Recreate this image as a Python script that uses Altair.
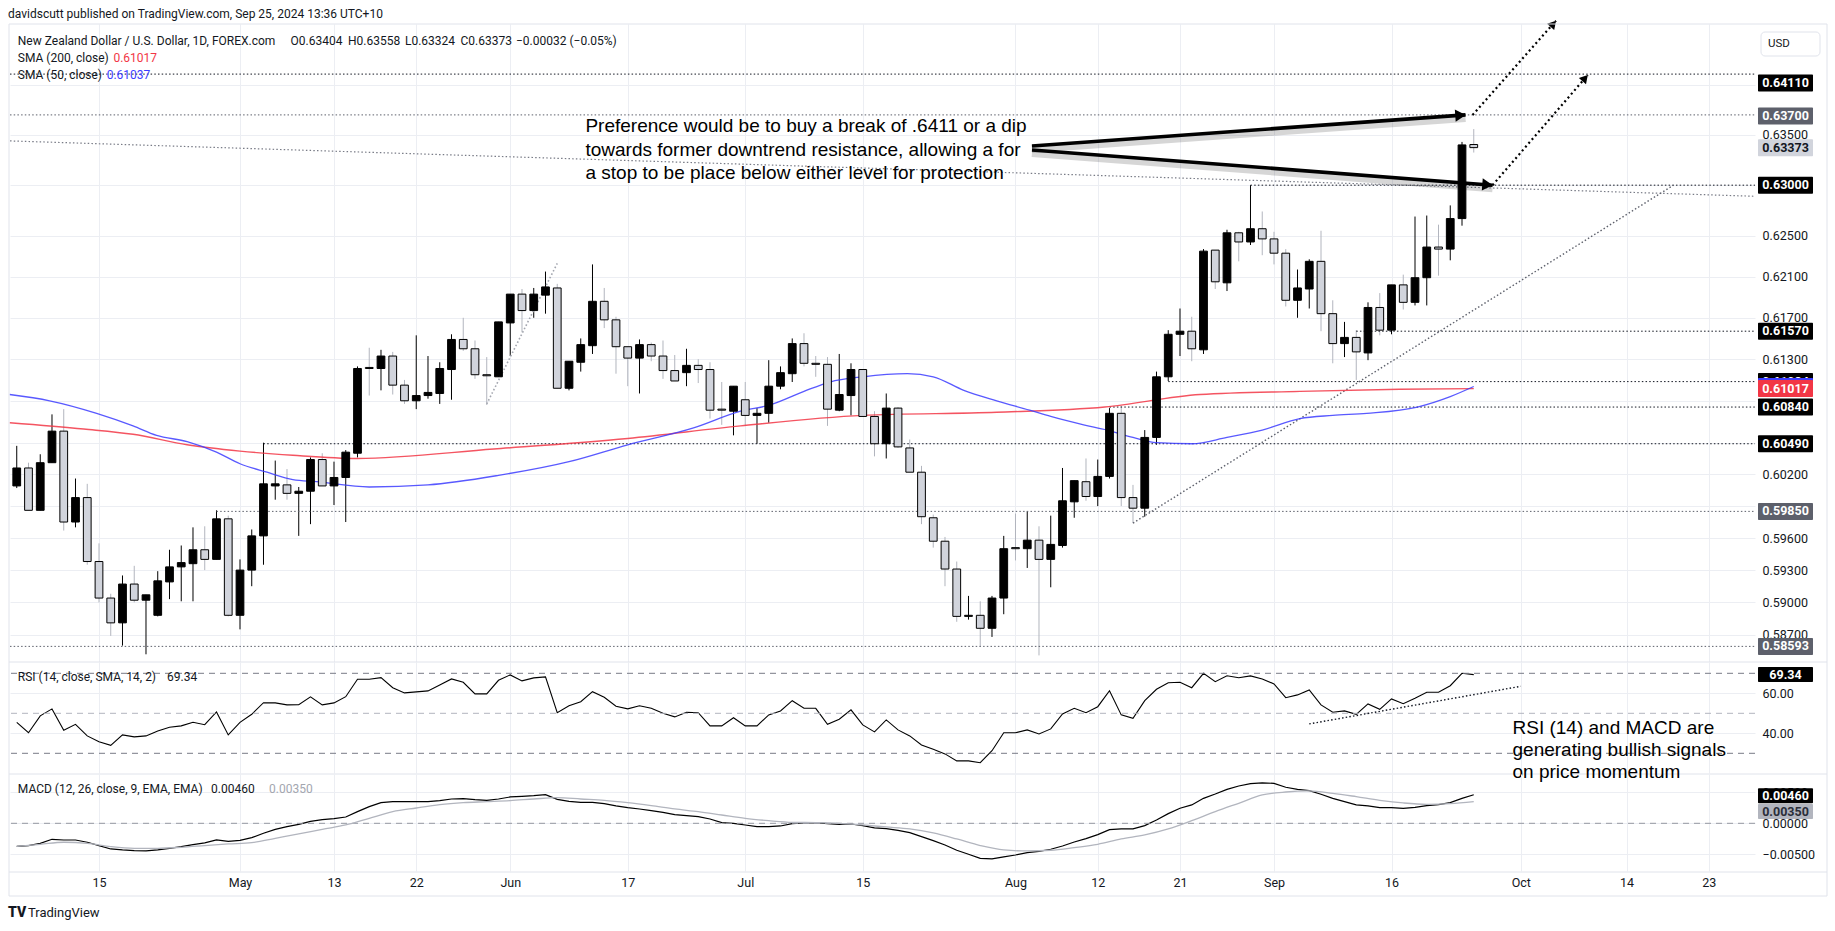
import math
import altair as alt
import pandas as pd

# ------------------------------------------------------------------ data
FIRST_DAY, LAST_DAY = "2024-04-04", "2024-09-25"
ANCHOR_DAY = "2024-04-15"          # trading-day 0 of the time axis
AXIS_END_DAY = "2024-10-31"

opens = [
    0.6009, 0.6026, 0.5986, 0.6031, 0.6061, 0.5975, 0.5998,
    0.5938, 0.5904, 0.5881, 0.5917, 0.5902, 0.5888, 0.5919, 0.5933, 0.5936, 0.5949,
    0.5940, 0.5978, 0.5888, 0.5930, 0.5962, 0.6009, 0.6010, 0.6002, 0.6004, 0.6034,
    0.6009, 0.6017, 0.6040, 0.6122, 0.6121, 0.6133, 0.6105, 0.6090, 0.6095, 0.6097,
    0.6120, 0.6149, 0.6140, 0.6115, 0.6113, 0.6165, 0.6193, 0.6177, 0.6192, 0.6199,
    0.6102, 0.6127, 0.6143, 0.6186, 0.6168, 0.6142, 0.6131, 0.6144, 0.6133, 0.6119,
    0.6117, 0.6124, 0.6120, 0.6082, 0.6080, 0.6091, 0.6076, 0.6078, 0.6104, 0.6116,
    0.6145, 0.6126, 0.6125, 0.6081, 0.6095, 0.6120, 0.6075, 0.6049, 0.6083, 0.6045,
    0.6022, 0.5979, 0.5957, 0.5931, 0.5887, 0.5888, 0.5876, 0.5904, 0.5951, 0.5950,
    0.5958, 0.5940, 0.5953, 0.5994, 0.6013, 0.5999, 0.6018, 0.6078, 0.5998, 0.5988,
    0.6055, 0.6113, 0.6154, 0.6157, 0.6139, 0.6236, 0.6204, 0.6253, 0.6244, 0.6257,
    0.6247, 0.6233, 0.6187, 0.6198, 0.6225, 0.6174, 0.6145, 0.6151, 0.6136, 0.6180,
    0.6158, 0.6202, 0.6185, 0.6209, 0.6239, 0.6237, 0.6267, 0.63404]
highs = [
    0.6047, 0.6031, 0.6039, 0.6077, 0.6082, 0.6016, 0.6011,
    0.5955, 0.5908, 0.5925, 0.5934, 0.5907, 0.5929, 0.5949, 0.5953, 0.5970, 0.5971,
    0.5986, 0.5981, 0.5940, 0.5968, 0.6050, 0.6033, 0.6025, 0.6008, 0.6036, 0.6040,
    0.6032, 0.6043, 0.6123, 0.6141, 0.6139, 0.6137, 0.6110, 0.6153, 0.6133, 0.6127,
    0.6154, 0.6170, 0.6148, 0.6132, 0.6166, 0.6193, 0.6198, 0.6199, 0.6215, 0.6203,
    0.6128, 0.6150, 0.6222, 0.6199, 0.6171, 0.6142, 0.6149, 0.6146, 0.6148, 0.6134,
    0.6140, 0.6130, 0.6127, 0.6108, 0.6104, 0.6108, 0.6083, 0.6129, 0.6123, 0.6150,
    0.6155, 0.6133, 0.6132, 0.6135, 0.6126, 0.6120, 0.6080, 0.6097, 0.6084, 0.6053,
    0.6028, 0.5982, 0.5961, 0.5938, 0.5906, 0.5901, 0.5906, 0.5962, 0.5983, 0.5985,
    0.5971, 0.5981, 0.6026, 0.6014, 0.6035, 0.6034, 0.6083, 0.6085, 0.6010, 0.6062,
    0.6118, 0.6158, 0.6179, 0.6171, 0.6237, 0.6236, 0.6256, 0.6254, 0.6300, 0.6274,
    0.6254, 0.6237, 0.6217, 0.6227, 0.6255, 0.6187, 0.6166, 0.6158, 0.6185, 0.6194,
    0.6202, 0.6212, 0.6269, 0.6270, 0.6261, 0.6280, 0.6343, 0.63558]
lows = [
    0.6007, 0.5986, 0.5986, 0.6031, 0.5967, 0.5970, 0.5935,
    0.5900, 0.5869, 0.5860, 0.5900, 0.5852, 0.5887, 0.5903, 0.5901, 0.5901, 0.5930,
    0.5940, 0.5887, 0.5875, 0.5915, 0.5935, 0.5996, 0.5996, 0.5962, 0.5973, 0.6009,
    0.5991, 0.5975, 0.6036, 0.6095, 0.6100, 0.6096, 0.6087, 0.6082, 0.6092, 0.6087,
    0.6091, 0.6138, 0.6111, 0.6086, 0.6113, 0.6133, 0.6156, 0.6170, 0.6174, 0.6102,
    0.6100, 0.6118, 0.6135, 0.6160, 0.6116, 0.6104, 0.6097, 0.6128, 0.6111, 0.6109,
    0.6104, 0.6107, 0.6073, 0.6067, 0.6057, 0.6066, 0.6049, 0.6069, 0.6101, 0.6108,
    0.6123, 0.6113, 0.6066, 0.6080, 0.6076, 0.6075, 0.6037, 0.6035, 0.6045, 0.6022,
    0.5973, 0.5951, 0.5915, 0.5882, 0.5884, 0.5859, 0.5868, 0.5889, 0.5939, 0.5932,
    0.5851, 0.5914, 0.5951, 0.5979, 0.5995, 0.5990, 0.6016, 0.5990, 0.5974, 0.5980,
    0.6048, 0.6109, 0.6133, 0.6128, 0.6135, 0.6198, 0.6196, 0.6225, 0.6241, 0.6231,
    0.6222, 0.6181, 0.6170, 0.6179, 0.6157, 0.6126, 0.6132, 0.6110, 0.6129, 0.6153,
    0.6154, 0.6178, 0.6182, 0.6182, 0.6211, 0.6226, 0.6260, 0.63324]
closes = [
    0.6026, 0.5986, 0.6031, 0.6061, 0.5975, 0.5998, 0.5938,
    0.5904, 0.5881, 0.5917, 0.5902, 0.5907, 0.5920, 0.5933, 0.5937, 0.5949, 0.5940,
    0.5978, 0.5888, 0.5930, 0.5962, 0.6011, 0.6011, 0.6002, 0.6004, 0.6034, 0.6009,
    0.6017, 0.6041, 0.6121, 0.6121, 0.6133, 0.6105, 0.6090, 0.6095, 0.6098, 0.6121,
    0.6149, 0.6140, 0.6115, 0.6114, 0.6166, 0.6193, 0.6177, 0.6193, 0.6200, 0.6102,
    0.6128, 0.6144, 0.6186, 0.6168, 0.6142, 0.6131, 0.6144, 0.6133, 0.6119, 0.6109,
    0.6124, 0.6120, 0.6081, 0.6081, 0.6104, 0.6076, 0.6078, 0.6104, 0.6117, 0.6145,
    0.6126, 0.6125, 0.6082, 0.6096, 0.6120, 0.6075, 0.6049, 0.6083, 0.6046, 0.6022,
    0.5980, 0.5957, 0.5931, 0.5887, 0.5888, 0.5876, 0.5904, 0.5950, 0.5950, 0.5958,
    0.5940, 0.5954, 0.5995, 0.6014, 0.5999, 0.6018, 0.6078, 0.5998, 0.5988, 0.6055,
    0.6113, 0.6154, 0.6157, 0.6140, 0.6235, 0.6205, 0.6253, 0.6244, 0.6257, 0.6247,
    0.6233, 0.6187, 0.6199, 0.6225, 0.6174, 0.6145, 0.6151, 0.6137, 0.6180, 0.6158,
    0.6202, 0.6185, 0.6209, 0.6239, 0.6237, 0.6267, 0.6340, 0.63373]

rsi = [
    45.5, 40.3, 48.7, 52.2, 41.5, 44.5, 38.7,
    35.8, 34.0, 39.2, 38.2, 38.7, 41.2, 43.0, 43.7, 45.5, 44.3,
    50.7, 39.2, 45.5, 49.5, 55.3, 55.2, 54.2, 54.3, 58.2, 54.2,
    55.2, 58.3, 67.0, 67.0, 67.8, 62.8, 60.2, 60.7, 61.2, 64.2,
    67.2, 65.5, 59.7, 59.7, 66.5, 69.2, 66.2, 67.7, 68.2, 50.3,
    53.8, 55.8, 60.8, 58.0, 53.5, 52.2, 53.8, 52.5, 50.0, 48.2,
    50.5, 50.3, 43.7, 43.7, 47.8, 43.7, 43.7, 49.2, 51.2, 56.3,
    52.5, 52.5, 44.5, 47.0, 51.7, 44.2, 40.7, 46.7, 41.7, 38.7,
    34.2, 32.0, 29.7, 26.2, 26.2, 25.3, 31.3, 40.3, 40.3, 41.7,
    39.7, 42.2, 49.7, 52.5, 50.3, 53.3, 61.3, 49.2, 47.5, 56.3,
    62.0, 65.3, 65.5, 62.8, 70.0, 65.8, 68.8, 67.8, 68.7, 67.2,
    64.7, 57.8, 59.2, 61.7, 54.2, 50.5, 51.2, 49.5, 54.7, 52.0,
    57.2, 54.8, 57.5, 60.5, 60.5, 63.8, 70.0, 69.34]

macd = [
    -0.00371, -0.00360, -0.00323, -0.00258, -0.00269, -0.00269, -0.00306,
    -0.00360, -0.00414, -0.00430, -0.00441, -0.00446, -0.00430, -0.00403, -0.00376, -0.00344, -0.00317,
    -0.00269, -0.00290, -0.00274, -0.00231, -0.00161, -0.00097, -0.00054, -0.00016, 0.00032, 0.00059,
    0.00075, 0.00102, 0.00188, 0.00269, 0.00333, 0.00349, 0.00349, 0.00349, 0.00349, 0.00366,
    0.00392, 0.00398, 0.00382, 0.00371, 0.00392, 0.00425, 0.00435, 0.00446, 0.00462, 0.00387,
    0.00355, 0.00339, 0.00339, 0.00317, 0.00280, 0.00253, 0.00231, 0.00204, 0.00177, 0.00140,
    0.00124, 0.00108, 0.00070, 0.00011, 0.00000, -0.00027, -0.00054, -0.00054, -0.00043, -0.00005,
    0.00005, 0.00011, -0.00005, -0.00016, -0.00011, -0.00038, -0.00075, -0.00086, -0.00113, -0.00151,
    -0.00215, -0.00280, -0.00349, -0.00435, -0.00500, -0.00565, -0.00575, -0.00543, -0.00511, -0.00473,
    -0.00452, -0.00419, -0.00366, -0.00301, -0.00247, -0.00183, -0.00102, -0.00091, -0.00091, -0.00038,
    0.00054, 0.00156, 0.00242, 0.00296, 0.00403, 0.00473, 0.00548, 0.00602, 0.00640, 0.00651,
    0.00645, 0.00581, 0.00548, 0.00527, 0.00468, 0.00403, 0.00349, 0.00296, 0.00280, 0.00253,
    0.00253, 0.00242, 0.00258, 0.00285, 0.00301, 0.00333, 0.00403, 0.00460]

signal_day = [-7, -5, -3, -1, 1, 3, 5, 7, 9, 11, 13, 15, 17, 19, 21, 23, 25, 27, 29, 31,
              33, 35, 37, 39, 41, 43, 45, 47, 49, 51, 53, 55, 57, 59, 61, 63, 65, 67, 69,
              71, 73, 75, 77, 79, 81, 83, 85, 87, 89, 91, 93, 95, 97, 99, 101, 103, 105,
              107, 109, 111, 113, 115, 117]
signal_val = [-0.00371, -0.00339, -0.00306, -0.00323, -0.00376, -0.00403, -0.00403, -0.00387,
              -0.00360, -0.00333, -0.00312, -0.00242, -0.00172, -0.00097, -0.00027, 0.00081,
              0.00188, 0.00247, 0.00301, 0.00333, 0.00349, 0.00366, 0.00392, 0.00414, 0.00392,
              0.00371, 0.00333, 0.00285, 0.00231, 0.00188, 0.00134, 0.00080, 0.00043, 0.00016,
              0.00011, 0.00000, -0.00027, -0.00059, -0.00091, -0.00156, -0.00253, -0.00360,
              -0.00430, -0.00446, -0.00435, -0.00392, -0.00339, -0.00253, -0.00188, -0.00091,
              0.00043, 0.00188, 0.00323, 0.00457, 0.00505, 0.00522, 0.00484, 0.00430, 0.00371,
              0.00328, 0.00306, 0.00317, 0.00350]

sma200_day = [-7.6, -1.3, 2.9, 7.5, 12, 16.5, 22, 33.6, 45, 54.6, 65, 76.4, 85.6, 93.7, 102.2, 110.7, 117]
sma200_val = [0.6069, 0.6063, 0.6058, 0.6048, 0.6042, 0.6038, 0.6035, 0.6044, 0.6054, 0.6066,
              0.6076, 0.6079, 0.6084, 0.6096, 0.6099, 0.6101, 0.61017]
sma50_day = [-7.6, -4.2, -0.2, 2.9, 4.9, 7.5, 10, 12, 14.3, 16.5, 18.5, 23, 28, 34, 40, 45,
             50.6, 54.6, 57.1, 60, 62.2, 65, 68.8, 71, 73.6, 76.4, 79.2, 81, 83.8, 85.8,
             88, 90, 93, 96, 99, 102.2, 105, 107.9, 112.2, 115, 117]
sma50_val = [0.6096, 0.6090, 0.6078, 0.6066, 0.6057, 0.6051, 0.6041, 0.6030, 0.6022, 0.6015,
             0.6013, 0.6008, 0.6010, 0.6019, 0.6032, 0.6048, 0.6064, 0.6080, 0.6086, 0.6099,
             0.6108, 0.6113, 0.6116, 0.6113, 0.6100, 0.6090, 0.6081, 0.6075, 0.6067, 0.6062,
             0.6055, 0.6050, 0.6049, 0.6055, 0.6062, 0.6073, 0.6076, 0.6078, 0.6084, 0.6094, 0.61037]

tick_dates = ["2024-04-15", "2024-05-01", "2024-05-13", "2024-05-22", "2024-06-03", "2024-06-17",
              "2024-07-01", "2024-07-15", "2024-08-01", "2024-08-12", "2024-08-21", "2024-09-02",
              "2024-09-16", "2024-10-01", "2024-10-14", "2024-10-23"]
tick_labels = ["15", "May", "13", "22", "Jun", "17", "Jul", "15", "Aug", "12", "21", "Sep",
               "16", "Oct", "14", "23"]

main_ticks = [0.587, 0.590, 0.593, 0.596, 0.599, 0.602, 0.605, 0.609, 0.613, 0.617, 0.621,
              0.625, 0.630, 0.635, 0.640]
covered_ticks = [0.599, 0.605, 0.609, 0.630]     # labels hidden behind level tags

# horizontal levels: price, first trading day (None = whole width), dot colour
level_price = [0.6411, 0.6370, 0.6300, 0.6157, 0.61084, 0.6084, 0.6049, 0.5985, 0.58593]
level_start = [None, None, "2024-08-29", "2024-09-11", "2024-08-20", "2024-08-13",
               "2024-05-03", "2024-04-29", None]
level_color = ["#131722", "#5d606b", "#131722", "#131722", "#131722", "#131722",
               "#131722", "#5d606b", "#5d606b"]

# price-axis tags: value, text, fill, text colour, pixel shift
tag_value = [0.6411, 0.6370, 0.63373, 0.6300, 0.6157, 0.61084, 0.61037, 0.61017, 0.6084, 0.6049, 0.5985, 0.58593]
tag_text = ["0.64110", "0.63700", "0.63373", "0.63000", "0.61570", "0.61084", "", "0.61017",
            "0.60840", "0.60490", "0.59850", "0.58593"]
tag_fill = ["#000000", "#5d606b", "#d1d4dc", "#000000", "#000000", "#000000", "#3c3cff", "#f23645",
            "#000000", "#000000", "#5d606b", "#5d606b"]
tag_tcol = ["#ffffff", "#ffffff", "#131722", "#ffffff", "#ffffff", "#ffffff", "#ffffff", "#ffffff",
            "#ffffff", "#ffffff", "#ffffff", "#ffffff"]
tag_shift = [9, 1, 0, 0, 0, 0, 0, 0, 0, 0, 0, 0]

note_lines = ["Preference would be to buy a break of .6411 or a dip",
              "towards former downtrend resistance, allowing a for",
              "a stop to be place below either level for protection"]
note_day = 41.4
note_price = [0.63584, 0.63352, 0.63125]

rsi_note_lines = ["RSI (14) and MACD are", "generating bullish signals", "on price momentum"]
rsi_note_day = 120.3
rsi_note_val = [42.9, 31.65, 20.65]

downtrend_day, downtrend_price = [-7.57, 140.9], [0.6344, 0.6289]
uptrend_day, uptrend_price = [88, 134], [0.5974, 0.6300]
may_day, may_price = [33, 39], [0.6087, 0.6223]
rsi_trend_day, rsi_trend_val = [103, 121], [44.7, 63.5]
arrow_day = [[79.4, 116.3], [79.4, 118.6]]
arrow_price = [[0.6339, 0.6370], [0.6335, 0.6300]]
dash_arrow_day = [[116.9, 124.0], [118.6, 126.7]]
dash_arrow_price = [[0.6370, 0.6465], [0.6300, 0.6410]]

# ------------------------------------------------------------------ layout / scales
W, H_MAIN, H_RSI, H_MACD = 1745, 638, 112, 98
X_DOM = [-7.574, 140.936]
Y_DOM = [0.584493, 0.64617]
RSI_DOM = [19.65, 75.65]
MACD_DOM = [-0.007855, 0.007952]
GRID = "#eceef3"
LINE = "#e0e3eb"
TXT = "#131722"

XS = alt.Scale(domain=X_DOM, nice=False, zero=False)
YS = alt.Scale(type="log", domain=Y_DOM, nice=False)
RS = alt.Scale(domain=RSI_DOM, nice=False, zero=False)
MS = alt.Scale(domain=MACD_DOM, nice=False, zero=False)

all_days = pd.bdate_range(FIRST_DAY, AXIS_END_DAY)
pos = {d.strftime("%Y-%m-%d"): i for i, d in enumerate(all_days)}
anchor = pos[ANCHOR_DAY]


def day_of(s):
    return pos[s] - anchor


n_bars = len(pd.bdate_range(FIRST_DAY, LAST_DAY))
bar_day = [pos[FIRST_DAY] - anchor + i for i in range(n_bars)]
tick_days = [day_of(d) for d in tick_dates]
label_expr = "".join(f"datum.value == {d} ? '{t}' : " for d, t in zip(tick_days, tick_labels)) + "''"
price_label_expr = "(" + " || ".join(f"abs(datum.value - {v}) < 0.000001" for v in covered_ticks) + \
    ") ? '' : format(datum.value, '.5f')"

ax_x_hidden = alt.Axis(values=tick_days, labels=False, ticks=False, domain=False, grid=True,
                       gridColor=GRID, title=None)
ax_x_bottom = alt.Axis(values=tick_days, labelExpr=label_expr, ticks=False, domain=False, grid=True,
                       gridColor=GRID, title=None, labelPadding=4, labelFontSize=12.5,
                       labelColor=TXT, labelOverlap=False, labelFlush=False)


def XF(f, scale=XS):
    return alt.X(f, scale=scale, title=None)


def YF(f, scale=YS):
    return alt.Y(f, scale=scale, title=None)


one = pd.DataFrame({"k": [0]})


def pix_rect(x1, x2, y1, y2, **kw):
    return alt.Chart(one).mark_rect(**kw).encode(
        x=alt.value(x1), x2=alt.value(x2), y=alt.value(y1), y2=alt.value(y2))


def pix_text(x, y, text, **kw):
    style = dict(align="left", baseline="middle", fontSize=12, color=TXT)
    style.update(kw)
    return alt.Chart(one).mark_text(text=text, **style).encode(x=alt.value(x), y=alt.value(y))


def tag(value, text, fill, tcol, shift, h, yscale):
    df = pd.DataFrame({"v": [value], "t": [text]})
    out = [alt.Chart(df).mark_rect(fill=fill, yOffset=shift - h / 2, y2Offset=shift + h / 2,
                                   cornerRadius=1).encode(
        x=alt.value(1748), x2=alt.value(1803),
        y=YF("v:Q", yscale), y2=alt.Y2("v:Q", title=None))]
    if text:
        out.append(alt.Chart(df).mark_text(color=tcol, fontSize=12.5, fontWeight="bold", align="center",
                                           baseline="middle", yOffset=shift).encode(
            x=alt.value(1775.5), y=YF("v:Q", yscale), text="t:N"))
    return out


# ------------------------------------------------------------------ main price panel
cd = pd.DataFrame({"day": bar_day, "open": opens, "high": highs, "low": lows, "close": closes})
cd["dir"] = ["up" if c >= o else "down" for o, c in zip(opens, closes)]
cd["left"] = cd["day"] - 0.33
cd["right"] = cd["day"] + 0.33

layers = []
wicks = alt.Chart(cd).mark_rule(strokeWidth=1).encode(
    x=alt.X("day:Q", scale=XS, axis=ax_x_hidden),
    y=alt.Y("low:Q", scale=YS, axis=alt.Axis(orient="right", values=main_ticks,
                                              labelExpr=price_label_expr,
                                              ticks=False, domain=False, labelPadding=7,
                                              grid=True, gridColor=GRID, title=None,
                                              labelOverlap=False, labelFontSize=12.5,
                                              labelColor=TXT)),
    y2=alt.Y2("high:Q", title=None),
    color=alt.Color("dir:N", scale=alt.Scale(domain=["up", "down"], range=["#000000", "#b2b5be"]),
                    legend=None))
layers.append(wicks)
layers.append(pix_rect(-10, -9, -24, -23, fill="white"))
layers.append(pix_rect(1824, 1825, 906, 907, fill="white"))

# levels
lv_rows = []
for p, s, c in zip(level_price, level_start, level_color):
    lv_rows.append({"p": p, "d1": X_DOM[0] if s is None else day_of(s), "d2": X_DOM[1], "c": c})
lv = pd.DataFrame(lv_rows)
levels = alt.Chart(lv).mark_rule(strokeWidth=1, strokeDash=[1.5, 2.2]).encode(
    x=XF("d1:Q"), x2=alt.X2("d2:Q", title=None),
    y=YF("p:Q"),
    color=alt.Color("c:N", scale=None))


def seg(days, prices, color, width, dash, yscale=YS):
    df = pd.DataFrame({"d": days, "p": prices})
    return alt.Chart(df).mark_line(color=color, strokeWidth=width, strokeDash=dash).encode(
        x=XF("d:Q"), y=YF("p:Q", yscale))


down_line = seg(downtrend_day, downtrend_price, "#787b86", 1.2, [1.5, 2.2])
up_line = seg(uptrend_day, uptrend_price, "#5d606b", 1.4, [1.5, 2.2])
may_line = seg(may_day, may_price, "#a3a6af", 1.6, [1.6, 2.2])

sma200 = alt.Chart(pd.DataFrame({"d": sma200_day, "p": sma200_val})).mark_line(
    color="#f23645", strokeWidth=1.4, opacity=0.85, interpolate="monotone").encode(
    x=XF("d:Q"), y=YF("p:Q"))
sma50 = alt.Chart(pd.DataFrame({"d": sma50_day, "p": sma50_val})).mark_line(
    color="#3c3cff", strokeWidth=1.3, opacity=0.85, interpolate="monotone").encode(
    x=XF("d:Q"), y=YF("p:Q"))

bodies = alt.Chart(cd).mark_rect(stroke="#000000", strokeWidth=1).encode(
    x=XF("left:Q"), x2=alt.X2("right:Q", title=None),
    y=YF("open:Q"), y2=alt.Y2("close:Q", title=None),
    fill=alt.Fill("dir:N", scale=alt.Scale(domain=["up", "down"], range=["#000000", "#d1d4dc"]),
                  legend=None))

# arrows
PXD = W / (X_DOM[1] - X_DOM[0])
PXL = H_MAIN / math.log(Y_DOM[1] / Y_DOM[0])


def head(d1, p1, d2, p2, back):
    dx = (d2 - d1) * PXD
    dy = -(math.log(p2) - math.log(p1)) * PXL
    L = math.hypot(dx, dy)
    ux, uy = dx / L, dy / L
    ang = math.degrees(math.atan2(dx, -dy)) % 360
    return d2 - ux * back / PXD, p2 * math.exp(uy * back / PXL), ang


arr_rows, head_rows = [], []
for i, (dd, pp) in enumerate(zip(arrow_day, arrow_price)):
    for d, p in zip(dd, pp):
        arr_rows.append({"a": i, "d": d, "p": p})
    hd, hp, ha = head(dd[0], pp[0], dd[1], pp[1], 5)
    head_rows.append({"d": hd, "p": hp, "ang": ha})
arr = pd.DataFrame(arr_rows)
arrow_shadow = alt.Chart(arr).mark_line(color="#000000", opacity=0.16, strokeWidth=8, yOffset=3).encode(
    x=XF("d:Q"), y=YF("p:Q"), detail="a:N")
arrow_lines = alt.Chart(arr).mark_line(color="#000000", strokeWidth=3.6).encode(
    x=XF("d:Q"), y=YF("p:Q"), detail="a:N")
arrow_heads = alt.Chart(pd.DataFrame(head_rows)).mark_point(
    shape="triangle-up", filled=True, size=150, color="#000000", opacity=1).encode(
    x=XF("d:Q"), y=YF("p:Q"), angle=alt.Angle("ang:Q", scale=None))

darr_rows, dhead_rows = [], []
for i, (dd, pp) in enumerate(zip(dash_arrow_day, dash_arrow_price)):
    for d, p in zip(dd, pp):
        darr_rows.append({"a": i, "d": d, "p": p})
    hd, hp, ha = head(dd[0], pp[0], dd[1], pp[1], 4)
    dhead_rows.append({"d": hd, "p": hp, "ang": ha})
darr = pd.DataFrame(darr_rows)
darrow_lines = alt.Chart(darr).mark_line(color="#000000", strokeWidth=2.2, strokeDash=[2, 3]).encode(
    x=XF("d:Q"), y=YF("p:Q"), detail="a:N")
darrow_heads = alt.Chart(pd.DataFrame(dhead_rows)).mark_point(
    shape="triangle-up", filled=True, size=90, color="#000000", opacity=1).encode(
    x=XF("d:Q"), y=YF("p:Q"), angle=alt.Angle("ang:Q", scale=None))

note = alt.Chart(pd.DataFrame({"d": [note_day] * 3, "p": note_price, "t": note_lines})).mark_text(
    align="left", baseline="middle", fontSize=19, font="Liberation Sans", color="#000000").encode(
    x=XF("d:Q"), y=YF("p:Q"), text="t:N")

layers += [levels, down_line, up_line, may_line, sma200, sma50, bodies,
           arrow_shadow, arrow_lines, arrow_heads, darrow_lines, darrow_heads, note]

# frame and separators
layers.append(pix_rect(-1, 1817, 0, 872, fillOpacity=0, stroke=LINE, strokeWidth=1))
for yy in [638, 750, 848]:
    layers.append(alt.Chart(one).mark_rule(color=LINE, strokeWidth=1).encode(
        x=alt.value(-1), x2=alt.value(1817), y=alt.value(yy)))

# chrome texts
layers.append(pix_text(-2, -10, "davidscutt published on TradingView.com, Sep 25, 2024 13:36 UTC+10"))
layers.append(pix_text(7.8, 17, "New Zealand Dollar / U.S. Dollar, 1D, FOREX.com"))
for x, t in [(280.5, "O0.63404"), (338, "H0.63558"), (395, "L0.63324"), (450.5, "C0.63373"),
             (506, "\u22120.00032 (\u22120.05%)")]:
    layers.append(pix_text(x, 17, t))
layers.append(pix_text(7.8, 34, "SMA (200, close)"))
layers.append(pix_text(103.4, 34, "0.61017", color="#f23645"))
layers.append(pix_text(7.8, 51, "SMA (50, close)"))
layers.append(pix_text(96.7, 51, "0.61037", color="#3c3cff"))
layers.append(pix_rect(1751, 1810, 8, 32, fill="white", stroke=LINE, strokeWidth=1, cornerRadius=4))
layers.append(pix_text(1758, 20, "USD", fontSize=11.5))
layers.append(pix_text(-2, 889, "TV", fontSize=14, fontWeight=900))
layers.append(pix_text(18, 889, "TradingView", fontSize=13))

for v, t, f, c, s in zip(tag_value, tag_text, tag_fill, tag_tcol, tag_shift):
    layers += tag(v, t, f, c, s, 17, YS)

main = alt.layer(*layers).properties(width=W, height=H_MAIN)

# ------------------------------------------------------------------ RSI panel
rd = pd.DataFrame({"day": bar_day, "rsi": rsi})
rsi_line = alt.Chart(rd).mark_line(color="#000000", strokeWidth=1.1).encode(
    x=alt.X("day:Q", scale=XS, axis=ax_x_hidden),
    y=alt.Y("rsi:Q", scale=RS, axis=alt.Axis(orient="right", values=[60, 40], format=".2f",
                                             ticks=False, domain=False, labelPadding=7,
                                             grid=True, gridColor=GRID, title=None,
                                             labelFontSize=12.5, labelColor=TXT)))
rsi_dark = alt.Chart(pd.DataFrame({"v": [70, 30]})).mark_rule(
    color="#787b86", strokeDash=[6, 5], strokeWidth=1).encode(y=YF("v:Q", RS))
rsi_mid = alt.Chart(pd.DataFrame({"v": [50]})).mark_rule(
    color="#b2b5be", strokeDash=[6, 5], strokeWidth=1).encode(y=YF("v:Q", RS))
rsi_tr = seg(rsi_trend_day, rsi_trend_val, "#131722", 1.4, [1.5, 2.2], RS)
rsi_note = alt.Chart(pd.DataFrame({"d": [rsi_note_day] * 3, "v": rsi_note_val, "t": rsi_note_lines})).mark_text(
    align="left", baseline="middle", fontSize=19, font="Liberation Sans", color="#000000").encode(
    x=XF("d:Q"), y=YF("v:Q", RS), text="t:N")
rsi_layers = [rsi_line, rsi_dark, rsi_mid, rsi_tr, rsi_note,
              pix_text(7.8, 15, "RSI (14, close, SMA, 14, 2)"),
              pix_text(157, 15, "69.34")]
rsi_layers += tag(69.34, "69.34", "#000000", "#ffffff", 0, 15, RS)
rsi_panel = alt.layer(*rsi_layers).properties(width=W, height=H_RSI)

# ------------------------------------------------------------------ MACD panel
md = pd.DataFrame({"day": bar_day, "m": macd})
macd_line = alt.Chart(md).mark_line(color="#000000", strokeWidth=1.2).encode(
    x=alt.X("day:Q", scale=XS, axis=ax_x_bottom),
    y=alt.Y("m:Q", scale=MS, axis=alt.Axis(orient="right", values=[0.005, 0, -0.005], format=".5f",
                                           ticks=False, domain=False, labelPadding=7,
                                           grid=True, gridColor=GRID, title=None,
                                           labelFontSize=12.5, labelColor=TXT)))
sig_line = alt.Chart(pd.DataFrame({"d": signal_day, "m": signal_val})).mark_line(
    color="#b2b5be", strokeWidth=1.3, interpolate="monotone").encode(
    x=XF("d:Q"), y=YF("m:Q", MS))
zero = alt.Chart(pd.DataFrame({"v": [0]})).mark_rule(
    color="#9598a1", strokeDash=[6, 5], strokeWidth=1).encode(y=YF("v:Q", MS))
macd_layers = [macd_line, zero, sig_line,
               pix_text(7.8, 15, "MACD (12, 26, close, 9, EMA, EMA)"),
               pix_text(201, 15, "0.00460"),
               pix_text(259, 15, "0.00350", color="#a3a6af")]
macd_layers += tag(0.0046, "0.00460", "#000000", "#ffffff", 1, 15, MS)
macd_layers += tag(0.0035, "0.00350", "#b2b5be", "#2a2e39", 10, 15, MS)
macd_panel = alt.layer(*macd_layers).properties(width=W, height=H_MACD)

chart = alt.vconcat(main, rsi_panel, macd_panel, spacing=0, bounds="flush").properties(
    padding=0, background="white"
).configure_view(strokeWidth=0).configure_axis(labelFont="Roboto").configure_text(font="Roboto")

chart.save("out.html", embed_options={"renderer": "svg", "actions": False})
